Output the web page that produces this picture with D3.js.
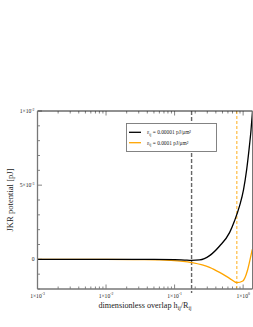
<!DOCTYPE html>
<html><head><meta charset="utf-8">
<script src="https://cdn.jsdelivr.net/npm/d3@7"></script>
<style>html,body{margin:0;padding:0;background:#fff;}svg{display:block;}</style>
</head><body>
<script>
// Data
const blackX = [0.001, 0.01, 0.05, 0.1, 0.14, 0.177, 0.232, 0.324, 0.454, 0.634, 0.75, 0.887, 1.014, 1.122, 1.219, 1.303, 1.371];
const blackY = [0, 0, 0, -0.00002, -0.00005, -0.00007, -0.00004, 0.00025, 0.0009, 0.0018, 0.0026, 0.0036, 0.0047, 0.006, 0.0074, 0.0087, 0.0100];
const orangeX = [0.001, 0.01, 0.03, 0.06, 0.085, 0.177, 0.324, 0.454, 0.634, 0.81, 0.99, 1.15, 1.25, 1.36];
const orangeY = [0, 0, -0.00002, -0.00004, -0.00007, -0.00022, -0.00054, -0.00088, -0.00128, -0.00157, -0.00146, -0.00079, -0.0001, 0.00067];
const vlineGray = 0.177;
const vlineOrange = 0.81;
const xMajor = [0.001, 0.01, 0.1, 1];
const xMajorLabels = [["1×10","-3"], ["1×10","-2"], ["1×10","-1"], ["1×10","0"]];
const yMajor = [0, 0.005, 0.01];
const yMajorLabels = [["0",""], ["5×10","-3"], ["1×10","-2"]];
const yMinor = [-0.002, -0.001, 0.001, 0.002, 0.003, 0.004, 0.006, 0.007, 0.008, 0.009];
const legendLabels = ["= 0.00001 pJ/μm²", "= 0.0001 pJ/μm²"];
const colors = ["#000000", "#ffa500"];

const W = 253, H = 327;
const L = 37.5, R = 252.5, T = 111, B = 289;
const svg = d3.select("body").append("svg").attr("width", W).attr("height", H);
const x = d3.scaleLog().domain([0.001, 1.37]).range([L, R]);
const y = d3.scaleLinear().domain([-0.002, 0.01]).range([B, T]);
const font = "'Liberation Serif', 'DejaVu Serif', serif";

svg.append("clipPath").attr("id","clip").append("rect").attr("x",L).attr("y",T).attr("width",R-L).attr("height",B-T);

const xMinor = [];
for (let d = 0.001; d < 2; d *= 10) for (let k = 2; k <= 9; k++) { const v = d*k; if (v < 1.37) xMinor.push(v); }

const g = svg.append("g");
xMinor.forEach(v => {
  g.append("line").attr("x1",x(v)).attr("x2",x(v)).attr("y1",B).attr("y2",B-2.5).attr("stroke","#666").attr("stroke-width",0.8);
  g.append("line").attr("x1",x(v)).attr("x2",x(v)).attr("y1",T).attr("y2",T+2.5).attr("stroke","#666").attr("stroke-width",0.8);
});
xMajor.forEach(v => {
  g.append("line").attr("x1",x(v)).attr("x2",x(v)).attr("y1",B).attr("y2",B-4.5).attr("stroke","#666").attr("stroke-width",0.8);
  g.append("line").attr("x1",x(v)).attr("x2",x(v)).attr("y1",T).attr("y2",T+4.5).attr("stroke","#666").attr("stroke-width",0.8);
});
yMinor.forEach(v => {
  g.append("line").attr("x1",L).attr("x2",L+2.5).attr("y1",y(v)).attr("y2",y(v)).attr("stroke","#666").attr("stroke-width",0.8);
});
yMajor.forEach(v => {
  g.append("line").attr("x1",L).attr("x2",L+4.5).attr("y1",y(v)).attr("y2",y(v)).attr("stroke","#666").attr("stroke-width",0.8);
});

xMajor.forEach((v,i) => {
  const t = svg.append("text").attr("x",x(v)).attr("y",B+8.5).attr("text-anchor","middle")
    .attr("font-family",font).attr("font-size",5.6).attr("fill","#222");
  t.append("tspan").text(xMajorLabels[i][0]);
  t.append("tspan").attr("dy",-2.3).attr("font-size",3.8).text(xMajorLabels[i][1]);
});
yMajor.forEach((v,i) => {
  const t = svg.append("text").attr("x",L-3).attr("y",y(v)+1.9).attr("text-anchor","end")
    .attr("font-family",font).attr("font-size",5.6).attr("fill","#222");
  t.append("tspan").text(yMajorLabels[i][0]);
  if (yMajorLabels[i][1]) t.append("tspan").attr("dy",-2.3).attr("font-size",3.8).text(yMajorLabels[i][1]);
});

svg.append("line").attr("x1",x(vlineGray)).attr("x2",x(vlineGray)).attr("y1",T).attr("y2",B+4)
  .attr("stroke","#666").attr("stroke-width",1.4).attr("stroke-dasharray","4,2");
svg.append("line").attr("x1",x(vlineOrange)).attr("x2",x(vlineOrange)).attr("y1",T).attr("y2",B)
  .attr("stroke","#ffa500").attr("stroke-width",0.9).attr("stroke-dasharray","3,2");

const line = d3.line().x(d => x(d[0])).y(d => y(d[1])).curve(d3.curveMonotoneX);
const series = [d3.zip(blackX, blackY), d3.zip(orangeX, orangeY)];
series.slice().reverse().forEach((s, i) => {
  svg.append("path").attr("d", line(s)).attr("fill","none").attr("clip-path","url(#clip)")
    .attr("stroke", colors[1-i]).attr("stroke-width",1.3);
});

svg.append("line").attr("x1",L).attr("x2",R).attr("y1",T).attr("y2",T).attr("stroke","#222").attr("stroke-width",1);
svg.append("line").attr("x1",L).attr("x2",L).attr("y1",T).attr("y2",B).attr("stroke","#777").attr("stroke-width",1.3);
svg.append("line").attr("x1",L).attr("x2",R).attr("y1",B).attr("y2",B).attr("stroke","#777").attr("stroke-width",1.3);
svg.append("line").attr("x1",R).attr("x2",R).attr("y1",T).attr("y2",B).attr("stroke","#777").attr("stroke-width",1);

const lg = svg.append("g");
lg.append("rect").attr("x",126.5).attr("y",123.5).attr("width",90).attr("height",28)
  .attr("fill","#fff").attr("stroke","#777").attr("stroke-width",0.9);
legendLabels.forEach((lab,i) => {
  const yy = 132.3 + i*10.4;
  lg.append("line").attr("x1",129).attr("x2",141).attr("y1",yy).attr("y2",yy).attr("stroke",colors[i]).attr("stroke-width",1.3);
  const t = lg.append("text").attr("x",147).attr("y",yy+1.8).attr("font-family",font).attr("font-size",5.4).attr("fill","#222");
  t.append("tspan").text("ε");
  t.append("tspan").attr("dy",1.5).attr("font-size",3.8).text("ij");
  t.append("tspan").attr("dy",-1.5).text(" " + lab);
});

svg.append("text").attr("transform",`translate(13,${(T+B)/2}) rotate(-90)`).attr("text-anchor","middle")
  .attr("font-family",font).attr("font-size",8.6).attr("fill","#222").text("JKR potential [pJ]");
const xl = svg.append("text").attr("x",(L+R)/2).attr("y",308).attr("text-anchor","middle")
  .attr("font-family",font).attr("font-size",8.2).attr("fill","#222");
xl.append("tspan").text("dimensionless overlap h");
xl.append("tspan").attr("dy",2).attr("font-size",5.5).text("ij");
xl.append("tspan").attr("dy",-2).text("/R");
xl.append("tspan").attr("dy",2).attr("font-size",5.5).text("ij");
</script>
</body></html>
